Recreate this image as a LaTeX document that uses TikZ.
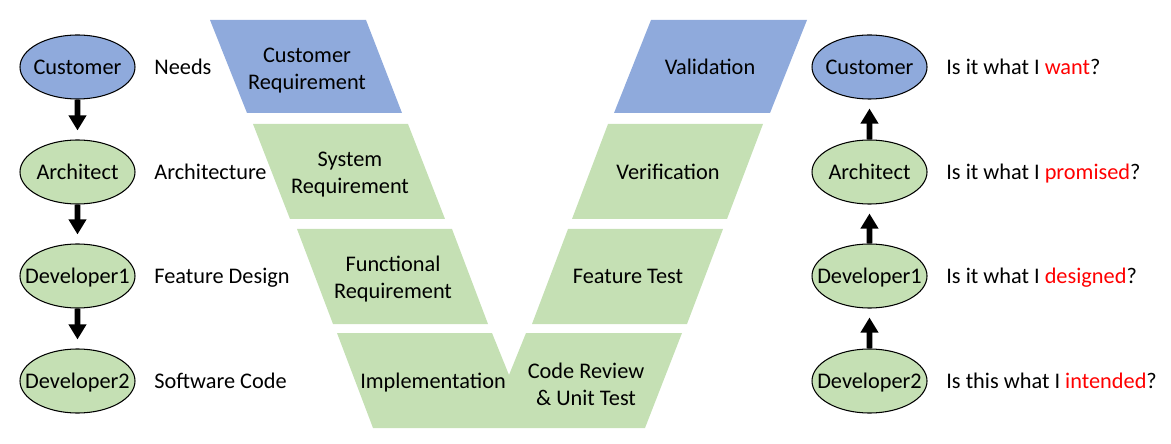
\documentclass[tikz,border=0pt]{standalone}
\usepackage{fontspec}
\setmainfont{Carlito}
\usetikzlibrary{arrows.meta,shapes.geometric}
\definecolor{reqblue}{HTML}{8FAADC}
\definecolor{reqgreen}{HTML}{C5E0B4}
\begin{document}
\begin{tikzpicture}[scale=0.2,
  role/.style={ellipse, draw=black, line width=0.6pt, minimum width=2.3cm, minimum height=1.28cm, inner xsep=-0.3cm, text height=0.82em, text depth=0pt},
  say/.style={anchor=west, text height=0.82em, text depth=0pt},
  stage/.style={align=center},
  stageline/.style={text height=0.82em, text depth=0pt},
  flow/.style={line width=3.4pt, -{Triangle[width=0.34cm,length=0.3cm]}, shorten >=0.18cm}]
\tikzstyle{every node}+=[inner sep=0pt, font=\fontsize{12.7}{15.4}\selectfont]
\useasboundingbox (0,0) rectangle (117.1,-44.4);
%\node[draw] at (0,0) {some text};
\fill [reqblue] (21,-2) -- (36.6,-2) -- (40.2,-11.3) -- (24.7,-11.3) -- cycle;
\fill [reqgreen] (25.3,-12.4) -- (40.8,-12.4) -- (44.5,-21.9) -- (29,-21.9) -- cycle;
\fill [reqgreen] (29.7,-22.9) -- (45.2,-22.9) -- (48.8,-32.4) -- (33.3,-32.4) -- cycle;
\fill [reqgreen] (33.7,-33.3) -- (49.2,-33.3) -- (50.9,-37.5) -- (52.6,-33.3) -- (68.2,-33.3) -- (64.5,-42.8) -- (37.3,-42.8) -- cycle;
\fill [reqgreen] (56.8,-22.9) -- (72.3,-22.9) -- (68.7,-32.4) -- (53.2,-32.4) -- cycle;
\fill [reqgreen] (60.8,-12.4) -- (76.3,-12.4) -- (72.7,-21.9) -- (57.2,-21.9) -- cycle;
\fill [reqblue] (65.1,-2) -- (80.7,-2) -- (77,-11.3) -- (61.4,-11.3) -- cycle;
\node [stage] (custreq) at (30.7,-7.1) {Customer\\Requirement};
\node [stage] (sysreq) at (35,-17.5) {System\\Requirement};
\node [stage] (funcreq) at (39.3,-27.9) {Functional\\Requirement};
\node [stageline] (impl) at (43.3,-38.1) {Implementation};
\node [stage] (review) at (58.6,-38.4) {Code Review\\\& Unit Test};
\node [stageline] (ftest) at (62.8,-27.6) {Feature Test};
\node [stageline] (verif) at (66.8,-17.2) {Verification};
\node [stageline] (valid) at (71,-6.7) {Validation};
\node [role, fill=reqblue] (cust) at (7.75,-6.7) {Customer};
\node [role, fill=reqgreen] (arch) at (7.75,-17.2) {Architect};
\node [role, fill=reqgreen] (devone) at (7.75,-27.6) {Developer1};
\node [role, fill=reqgreen] (devtwo) at (7.75,-38.1) {Developer2};
\draw [flow] (cust) -- (arch);
\draw [flow] (arch) -- (devone);
\draw [flow] (devone) -- (devtwo);
\node [say] (needs) at (15.4,-6.7) {Needs};
\node [say] (archi) at (15.4,-17.2) {Architecture};
\node [say] (fdesign) at (15.4,-27.6) {Feature Design};
\node [say] (swcode) at (15.4,-38.1) {Software Code};
\node [role, fill=reqblue] (rcust) at (86.95,-6.7) {Customer};
\node [role, fill=reqgreen] (rarch) at (86.95,-17.2) {Architect};
\node [role, fill=reqgreen] (rdevone) at (86.95,-27.6) {Developer1};
\node [role, fill=reqgreen] (rdevtwo) at (86.95,-38.1) {Developer2};
\draw [flow] (rarch) -- (rcust);
\draw [flow] (rdevone) -- (rarch);
\draw [flow] (rdevtwo) -- (rdevone);
\node [say] (qwant) at (94.6,-6.7) {Is it what I \textcolor{red}{want}?};
\node [say] (qpromise) at (94.6,-17.2) {Is it what I \textcolor{red}{promised}?};
\node [say] (qdesign) at (94.6,-27.6) {Is it what I \textcolor{red}{designed}?};
\node [say] (qintend) at (94.6,-38.1) {Is this what I \textcolor{red}{intended}?};
\end{tikzpicture}
\end{document}
